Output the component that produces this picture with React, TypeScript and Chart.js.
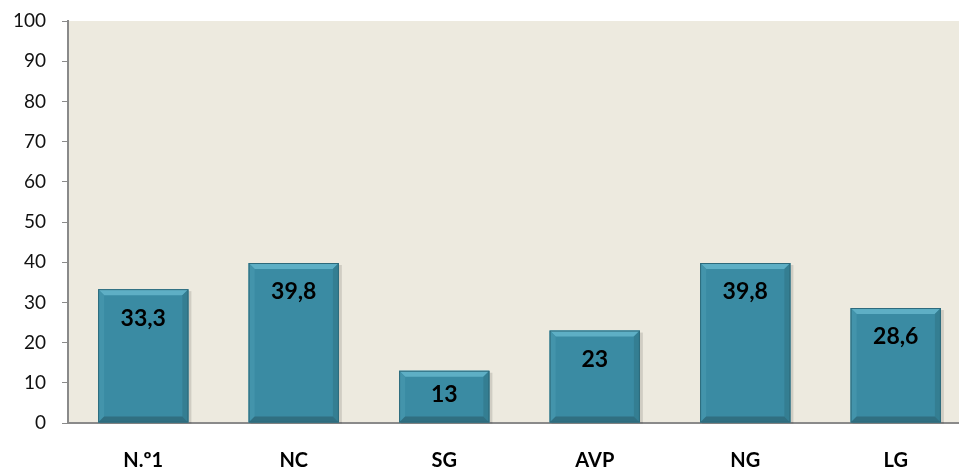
import React, { useEffect, useRef } from "react";
import { Chart, registerables } from "chart.js";

Chart.register(...registerables);

const categories = ["N.º1", "NC", "SG", "AVP", "NG", "LG"];
const values = [33.3, 39.8, 13, 23, 39.8, 28.6];
const yMin = 0;
const yMax = 100;
const yStep = 10;

const FONT = "Lato, 'Open Sans', sans-serif";

const bgPlugin = {
  id: "plotBg",
  beforeDraw(chart: any) {
    const { ctx, chartArea } = chart;
    ctx.save();
    ctx.fillStyle = "#EDEADF";
    ctx.fillRect(chartArea.left, chartArea.top, chartArea.right - chartArea.left, chartArea.bottom - chartArea.top);
    ctx.restore();
  },
};

const bevelPlugin = {
  id: "bevel",
  beforeDatasetsDraw(chart: any) {
    const { ctx } = chart;
    const meta = chart.getDatasetMeta(0);
    ctx.save();
    meta.data.forEach((bar: any) => {
      const l = bar.x - bar.width / 2;
      const r = bar.x + bar.width / 2;
      const t = bar.y;
      const b = bar.base;
      ctx.fillStyle = "rgba(0,0,0,0.12)";
      ctx.fillRect(l + 2, t + 2, r - l + 1, b - t - 1);
    });
    ctx.restore();
  },
  afterDatasetsDraw(chart: any) {
    const { ctx } = chart;
    const meta = chart.getDatasetMeta(0);
    ctx.save();
    meta.data.forEach((bar: any, i: number) => {
      const l = bar.x - bar.width / 2;
      const r = bar.x + bar.width / 2;
      const t = bar.y;
      const bot = bar.base;
      const s = 6;
      const poly = (pts: number[][], color: string) => {
        ctx.beginPath();
        ctx.moveTo(pts[0][0], pts[0][1]);
        for (let k = 1; k < pts.length; k++) ctx.lineTo(pts[k][0], pts[k][1]);
        ctx.closePath();
        ctx.fillStyle = color;
        ctx.fill();
      };
      poly([[l, t], [r, t], [r - s, t + s], [l + s, t + s]], "#5EAFC5");
      poly([[l, t], [l + s, t + s], [l + s, bot - s], [l, bot]], "#4394AB");
      poly([[r, t], [r, bot], [r - s, bot - s], [r - s, t + s]], "#347E92");
      poly([[l, bot], [l + s, bot - s], [r - s, bot - s], [r, bot]], "#306F81");
      ctx.strokeStyle = "#2D6A7B";
      ctx.lineWidth = 1;
      ctx.strokeRect(l + 0.5, t + 0.5, r - l - 1, bot - t - 1);

      const v = values[i];
      ctx.fillStyle = "#000";
      ctx.font = `bold 23px ${FONT}`;
      ctx.textAlign = "center";
      ctx.textBaseline = "middle";
      const off = v < 20 ? 24 : 29;
      ctx.fillText(String(v).replace(".", ","), bar.x, t + off);
    });
    ctx.restore();
  },
};

export default function App() {
  const ref = useRef<HTMLCanvasElement>(null);
  useEffect(() => {
    document.body.style.overflow = "hidden";
    const chart = new Chart(ref.current!, {
      type: "bar",
      data: {
        labels: categories,
        datasets: [
          {
            data: values,
            backgroundColor: "#3A8BA3",
            borderWidth: 0,
            barPercentage: 0.6,
            categoryPercentage: 1,
          },
        ],
      },
      options: {
        animation: false,
        responsive: false,
        maintainAspectRatio: false,
        layout: { padding: { top: 21, right: 4, left: 0, bottom: 0 } },
        plugins: { legend: { display: false }, tooltip: { enabled: false } },
        scales: {
          y: {
            min: yMin,
            max: yMax,
            ticks: {
              stepSize: yStep,
              color: "#111",
              font: { family: FONT, size: 19 },
              padding: 16,
            },
            grid: { drawOnChartArea: false, drawTicks: true, tickLength: 6, color: "#8a8a8a" },
            border: { display: true, color: "#8a8a8a", width: 2 },
            afterFit(scale: any) {
              scale.width = 68;
              scale.paddingTop = 0;
              scale.paddingBottom = 0;
            },
          },
          x: {
            ticks: {
              color: "#000",
              font: { family: FONT, size: 20, weight: "bold" },
              padding: 18,
            },
            grid: { display: false },
            border: { display: true, color: "#8a8a8a", width: 2 },
            afterFit(scale: any) {
              scale.height = 44;
              scale.paddingLeft = 0;
              scale.paddingRight = 0;
            },
          },
        },
      },
      plugins: [bgPlugin, bevelPlugin],
    });
    return () => chart.destroy();
  }, []);
  return (
    <div style={{ position: "absolute", left: 0, top: 0, width: 959, height: 467, overflow: "hidden", background: "#fff" }}>
      <canvas ref={ref} width={975} height={467} style={{ display: "block", width: 975, height: 467 }} />
    </div>
  );
}
